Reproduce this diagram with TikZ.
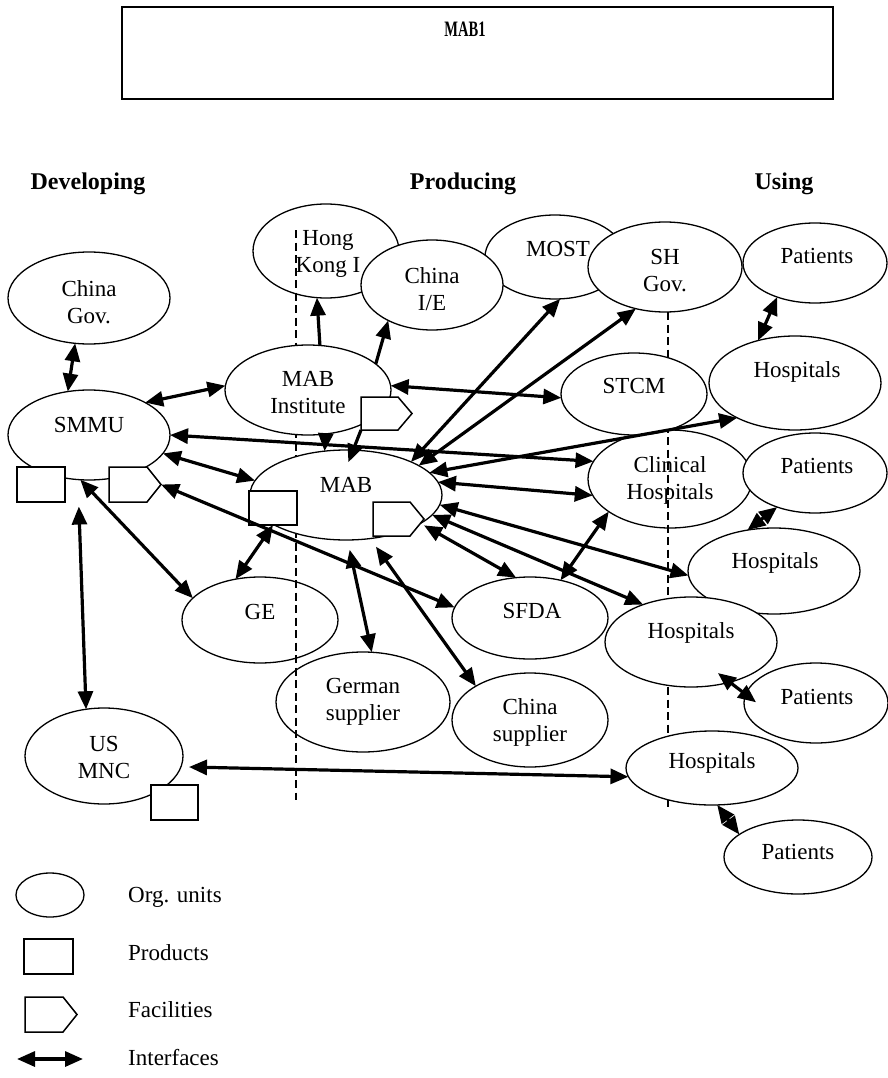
\documentclass[tikz,border=0pt]{standalone}
\usepackage{fontspec}
\setmainfont{Liberation Serif}
\usetikzlibrary{shapes.geometric,arrows.meta}
\tikzset{
 orgunit/.style={ellipse,draw,fill=white,line width=1.3pt,inner sep=0pt,outer sep=0pt},
 orgtext/.style={align=center,inner sep=0pt,font=\fontsize{23}{27}\selectfont},
 prodbox/.style={rectangle,draw,fill=white,line width=1.5pt,inner sep=0pt,outer sep=0pt},
 facbox/.style={rectangle,inner sep=0pt,outer sep=0pt},
 facline/.style={draw,fill=white,line width=1.5pt,line join=miter},
 iface/.style={line width=3.2pt,{Triangle[length=18pt,width=15pt]}-{Triangle[length=18pt,width=15pt]}},
 oneway/.style={line width=3.2pt,-{Triangle[length=18pt,width=15pt]}},
 divider/.style={line width=2pt,dash pattern=on 8pt off 4.5pt},
 header/.style={font=\fontsize{24}{28}\selectfont\bfseries,inner sep=0pt},
 legtext/.style={anchor=west,inner sep=0pt,font=\fontsize{23}{27}\selectfont},
}
\newcommand\orgu[8]{%
 \node[orgunit,minimum width=#4pt,minimum height=#5pt] (#1) at (#2,#3) {};
 \node[orgtext] (#1-t) at (#7,#8) {#6};}
\newcommand\facil[5]{%
 \node[facbox,minimum width=#4pt,minimum height=#5pt] (#1) at (#2,#3) {};
 \draw[facline] (#1.north west) -- ([xshift=-14pt]#1.north east) -- (#1.east)
   -- ([xshift=-14pt]#1.south east) -- (#1.south west) -- cycle;}
\begin{document}
\begin{tikzpicture}[x=1pt,y=-1pt]
\useasboundingbox (0,0) rectangle (888,1078);
% title
\node[draw,line width=1.5pt,minimum width=711pt,minimum height=92pt,inner sep=0pt] (title) at (477.5,53) {};
\node[inner sep=0pt,font=\fontsize{22}{26}\selectfont\bfseries] (titletext) at (465,29) {\scalebox{0.66}[1]{MAB1}};
% headers
\node[header] (hdev) at (88,184) {Developing};
\node[header] (hprod) at (463,184) {Producing};
\node[header] (huse) at (784,184) {Using};
% units below the dividers
\orgu{hk}{326}{251}{146}{94}{Hong\\Kong I}{328}{254}
\orgu{most}{555}{257}{140}{84}{MOST}{558}{249}
\orgu{cie}{432}{285}{142}{90}{China\\I/E}{432}{289}
\orgu{shg}{665}{267}{154}{90}{SH\\Gov.}{665}{271}
\orgu{pat1}{815}{263}{144}{80}{Patients}{817}{256}
\orgu{ge}{260}{620}{156}{86}{GE}{260}{612}
\orgu{gers}{363}{702}{174}{100}{German\\supplier}{363}{702}
\orgu{ch}{670}{479}{164}{98}{Clinical\\Hospitals}{670}{480}
% dividers
\coordinate (d1a) at (296,230); \coordinate (d1b) at (296,800);
\coordinate (d2a) at (668,312); \coordinate (d2b) at (668,807);
\draw[divider] (d1a) -- (d1b);
\draw[divider] (d2a) -- (d2b);
% units above the dividers
\orgu{cg}{89}{298}{162}{92}{China\\Gov.}{89}{302}
\orgu{smmu}{89}{435}{162}{90}{SMMU}{89}{425}
\orgu{mabi}{308}{390}{166}{90}{MAB\\Institute}{308}{393}
\orgu{mab}{346}{495}{192}{90}{MAB}{346}{485}
\orgu{stcm}{634}{394}{146}{82}{STCM}{634}{386}
\orgu{hos1}{795}{383}{172}{94}{Hospitals}{797}{372}
\orgu{pat2}{815}{473}{144}{80}{Patients}{817}{466}
\orgu{hos2}{774}{571}{172}{86}{Hospitals}{775}{563}
\orgu{sfda}{530}{618}{156}{82}{SFDA}{532}{611}
\orgu{hos3}{691}{642}{172}{90}{Hospitals}{691}{633}
\orgu{pat3}{816}{703}{144}{80}{Patients}{817}{697}
\orgu{chs}{530}{720}{156}{94}{China\\supplier}{530}{722}
\orgu{hos4}{712}{768}{172}{74}{Hospitals}{712}{763}
\orgu{pat4}{798}{857}{148}{74}{Patients}{798}{852}
\orgu{usmnc}{104}{756}{158}{96}{US\\MNC}{104}{757}
% products and facilities
\node[prodbox,minimum width=48pt,minimum height=35pt] (smmup) at (41,484.5) {};
\facil{smmuf}{135}{484.5}{52}{35}
\facil{mabif}{386.5}{413.5}{51}{33}
\node[prodbox,minimum width=48pt,minimum height=34pt] (mabp) at (273,508) {};
\facil{mabf}{398.5}{519}{51}{34}
\node[prodbox,minimum width=47pt,minimum height=35pt] (usp) at (174.5,802.5) {};
% interfaces
\draw[iface] (cg.253) -- (smmu.116);
\draw[iface] (smmu.30) -- (mabi.177);
\draw[oneway] (mabi.75) -- (hk.-101);
\draw[oneway] (mabi.21) -- (cie.219);
\draw[iface] (mabi.3) -- (stcm.183);
\draw[oneway] (mabi.-68) -- (mab.116);
\draw[oneway,shorten >=-13pt] (mabif.south west) -- (mab.81);
\draw[iface] (smmu.0) -- (ch.167);
\draw[iface] (smmu.-14) -- (mab.171);
\draw[iface] (smmuf.east) -- (sfda.172);
\draw[iface] (smmu.-101) -- (ge.162);
\draw[iface,shorten <=27pt] (smmu.-104) -- (usmnc.111);
\draw[iface] (mabp.south) -- (ge.121);
\draw[iface,shorten <=10pt] (mab.-88) -- (gers.80);
\draw[iface,shorten <=10pt] (mab.-61) -- (chs.148);
\draw[iface] (mab.27) -- (most.-83);
\draw[iface] (mab.22) -- (shg.-125);
\draw[iface] (mab.15) -- (hos1.211);
\draw[iface] (mab.8) -- (ch.192);
\draw[iface] (mab.-6) -- (hos2.183);
\draw[iface] (mab.-13) -- (hos3.142);
\draw[iface] (mabf.-14) -- (sfda.109);
\draw[iface] (ch.208) -- (sfda.51);
\draw[iface] (pat1.222) -- (hos1.131);
\draw[iface] (pat2.222) -- (hos2.123);
\draw[iface,shorten <=-15pt,shorten >=-13pt] (hos3.-46) -- (pat3.173);
\draw[iface] (hos4.-82) -- (pat4.159);
\draw[iface,shorten <=8pt] (usmnc.-8) -- (hos4.186);
% legend
\node[orgunit,minimum width=68pt,minimum height=44pt] (lego) at (50,895) {};
\node[prodbox,minimum width=49pt,minimum height=35pt] (legp) at (48.5,956.5) {};
\facil{legf}{51}{1014.5}{52}{35}
\coordinate (lega) at (17,1059); \coordinate (legb) at (83,1059);
\draw[iface] (lega) -- (legb);
\node[legtext] (lt1) at (128,897) {Org. units};
\node[legtext] (lt2) at (128,953) {Products};
\node[legtext] (lt3) at (128,1010) {Facilities};
\node[legtext] (lt4) at (128,1058) {Interfaces};
\end{tikzpicture}
\end{document}
